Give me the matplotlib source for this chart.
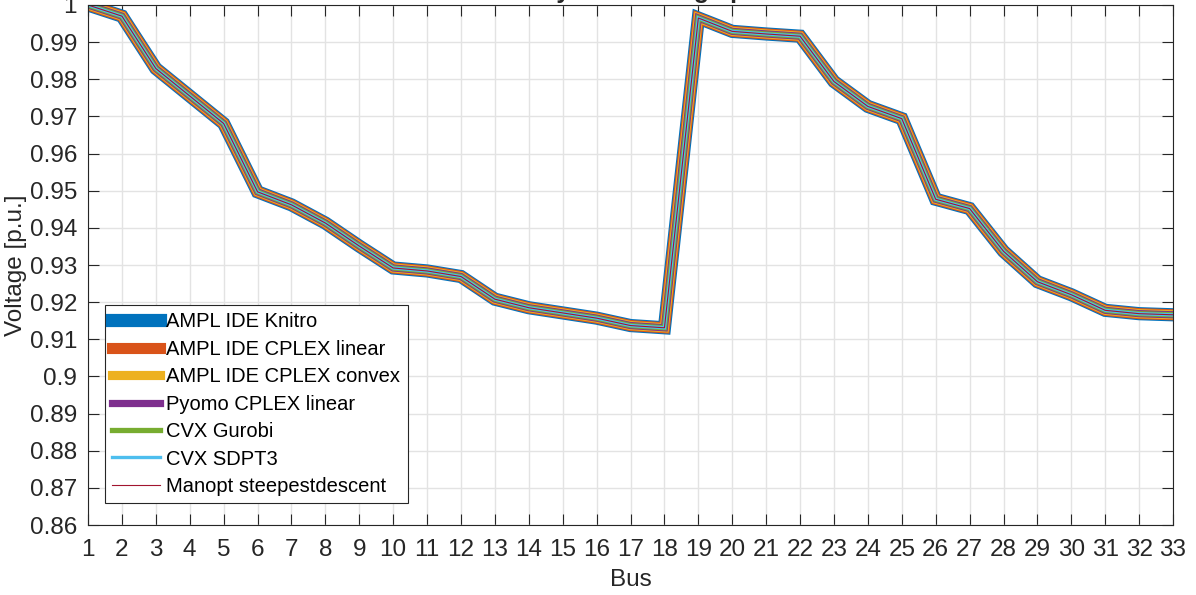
import numpy as np
import matplotlib.pyplot as plt

# --- Data: IEEE 33-bus voltage magnitudes (p.u.) ---
bus = np.arange(1, 34)
voltage = [1.0000, 0.9970, 0.9829, 0.9755, 0.9681, 0.9497, 0.9462, 0.9413,
           0.9351, 0.9292, 0.9284, 0.9269, 0.9208, 0.9185, 0.9171, 0.9157,
           0.9137, 0.9131, 0.9965, 0.9929, 0.9922, 0.9916, 0.9794, 0.9727,
           0.9694, 0.9477, 0.9452, 0.9337, 0.9255, 0.9220, 0.9178, 0.9169,
           0.9166]

solvers = ['AMPL IDE Knitro', 'AMPL IDE CPLEX linear', 'AMPL IDE CPLEX convex',
           'Pyomo CPLEX linear', 'CVX Gurobi', 'CVX SDPT3',
           'Manopt steepestdescent']
colors = ['#0072BD', '#D95319', '#EDB120', '#7E2F8E', '#77AC30', '#4DBEEE', '#A2142F']
widths = [9.5, 8.0, 6.6, 5.2, 3.8, 2.4, 0.8]

plt.rcParams['font.family'] = ['Liberation Sans', 'DejaVu Sans']

fig = plt.figure(figsize=(11.96, 5.95), dpi=100)
ax = fig.add_axes([0.0736, 0.1176, 0.9072, 0.874])

# all solvers give the same profile, so draw them thick-to-thin on top of each other
for name, c, w in zip(solvers, colors, widths):
    ax.plot(bus, voltage, color=c, lw=w, label=name, solid_joinstyle='miter')

ax.set_xlim(1, 33)
ax.set_ylim(0.86, 1.0)
ax.set_xticks(bus)
yt = np.round(np.arange(0.86, 1.0001, 0.01), 2)
ax.set_yticks(yt)
ax.set_yticklabels([('%g' % v) for v in yt])

ax.grid(True, color='#e3e3e3', lw=1.0)
ax.set_axisbelow(True)
ax.tick_params(direction='in', length=8, width=0.8, colors='#262626',
               labelsize=17.5, top=True, right=True, pad=8)
ax.tick_params(axis='x', pad=10)
for s in ax.spines.values():
    s.set_color('#262626')
    s.set_linewidth(0.8)

ax.set_xlabel('Bus', fontsize=17.5, color='#262626', labelpad=6)
ax.set_ylabel('Voltage [p.u.]', fontsize=17.5, color='#262626', labelpad=2)
ax.set_title('33-bus system voltage profile', fontsize=18, fontweight='bold',
             color='#262626', pad=5)

leg = ax.legend(loc='lower left', bbox_to_anchor=(0.0157, 0.0423), borderaxespad=0,
                fontsize=14.5, fancybox=False, framealpha=1, edgecolor='#262626',
                handlelength=2.4, handletextpad=0.3, labelspacing=0.42,
                borderpad=0.35)
leg.get_frame().set_linewidth(0.8)

fig.savefig('out.png', dpi=100)
